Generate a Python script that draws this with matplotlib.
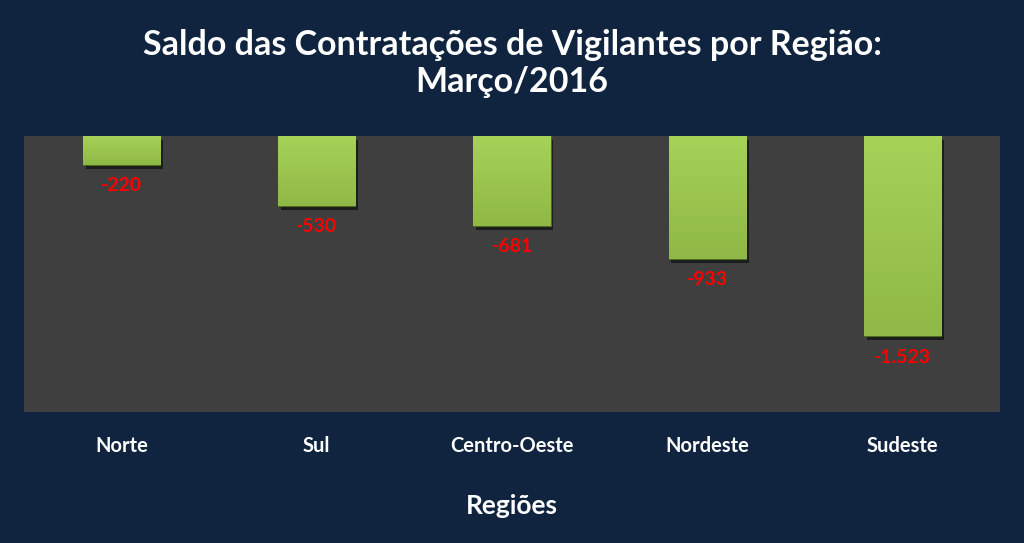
import matplotlib.pyplot as plt
import matplotlib.patheffects as pe
from matplotlib.colors import LinearSegmentedColormap
import numpy as np

# dados
regioes = ['Norte', 'Sul', 'Centro-Oeste', 'Nordeste', 'Sudeste']
saldo = [-220, -530, -681, -933, -1523]
rotulos = ['-220', '-530', '-681', '-933', '-1.523']

plt.rcParams['font.family'] = ['Lato', 'DejaVu Sans']

fundo = '#10243F'
cinza = '#3F3F3F'

fig = plt.figure(figsize=(10.24, 5.43), dpi=100, facecolor=fundo)
ax = fig.add_axes([0.0234, 0.2413, 0.9532, 0.5082], facecolor=cinza)

x = np.arange(len(regioes))
barras = ax.bar(x, saldo, width=0.395, color='#9CC94F', edgecolor='#4E6B22', linewidth=0.8,
                path_effects=[pe.SimplePatchShadow(offset=(2, -3), shadow_rgbFace='black', alpha=0.55),
                              pe.Normal()])

# gradiente dentro de cada barra
grad = np.linspace(0, 1, 256).reshape(-1, 1)
cmap = LinearSegmentedColormap.from_list('verde', ['#8FB846', '#A6D258'])
for b in barras:
    x0, y0 = b.get_x(), b.get_y()
    w, h = b.get_width(), b.get_height()
    im = ax.imshow(grad, cmap=cmap, aspect='auto', origin='lower',
                   extent=[x0, x0 + w, y0 + h, y0], zorder=b.get_zorder() + 0.1)
    im.set_clip_path(b)

ax.set_xlim(-0.5, len(regioes) - 0.5)
ax.set_ylim(-2100, 0)

for xi, v, r in zip(x, saldo, rotulos):
    ax.annotate(r, (xi, v), xytext=(0, -9), textcoords='offset points',
                ha='center', va='top', color='#FF0000', fontsize=14, fontweight='bold')

ax.set_xticks(x)
ax.set_xticklabels(regioes, color='white', fontsize=14.5, fontweight='bold')
ax.tick_params(axis='x', length=0, pad=17)
ax.set_yticks([])
for s in ax.spines.values():
    s.set_visible(False)

ax.set_xlabel('Regiões', color='white', fontsize=19, fontweight='bold', labelpad=28)

fig.text(0.5, 0.917, 'Saldo das Contratações de Vigilantes por Região:',
         ha='center', va='center', color='white', fontsize=24.5, fontweight='bold')
fig.text(0.5, 0.849, 'Março/2016',
         ha='center', va='center', color='white', fontsize=24.5, fontweight='bold')

plt.savefig('out.png', dpi=100, facecolor=fundo)
